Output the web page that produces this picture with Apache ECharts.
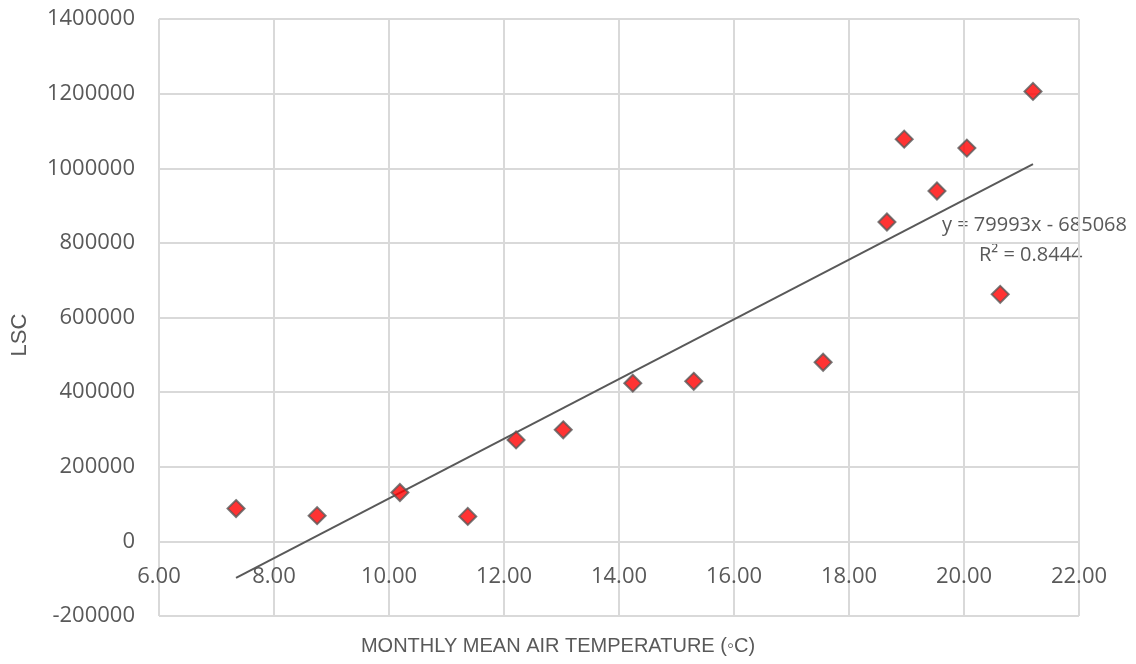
<!DOCTYPE html>
<html>
<head>
<meta charset="utf-8">
<script src="https://cdn.jsdelivr.net/npm/echarts@6/dist/echarts.min.js"></script>
<style>html,body{margin:0;padding:0;background:#fff}#c{width:1136px;height:664px}</style>
</head>
<body>
<div id="c"></div>
<script>
// Data
const temperature = [7.34, 8.75, 10.19, 11.37, 12.21, 13.03, 14.24, 15.30, 17.55, 18.66, 18.96, 19.53, 20.05, 20.63, 21.20];
const lsc = [88000, 69000, 131000, 67000, 272000, 299000, 424000, 429000, 480000, 856000, 1078000, 939000, 1054000, 662000, 1206000];
const trendSlope = 79993;
const trendIntercept = -685068;
const equationText = "y = 79993x - 685068";
const r2Text = "R² = 0.8444";
const xTitle = "MONTHLY MEAN AIR TEMPERATURE (◦C)";
const yTitle = "LSC";

const points = temperature.map((t, i) => [t, lsc[i]]);
const xMinData = Math.min(...temperature), xMaxData = Math.max(...temperature);
const trend = [[xMinData, trendSlope * xMinData + trendIntercept], [xMaxData, trendSlope * xMaxData + trendIntercept]];

const chart = echarts.init(document.getElementById('c'));
const txt = '#595959';
const gridCol = '#d9d9d9';
chart.setOption({
  animation: false,
  backgroundColor: '#fff',
  grid: { left: 159, right: 57, top: 19, bottom: 48, containLabel: false },
  xAxis: {
    type: 'value', min: 6, max: 22, interval: 2,
    position: 'bottom', offset: -74.6,
    axisLine: { show: true, onZero: false, lineStyle: { color: gridCol, width: 2 } },
    axisTick: { show: false },
    axisLabel: { color: txt, fontFamily: 'Open Sans', fontSize: 22, margin: 24, formatter: v => v.toFixed(2) },
    splitLine: { show: true, lineStyle: { color: gridCol, width: 2 } }
  },
  yAxis: {
    type: 'value', min: -200000, max: 1400000, interval: 200000,
    axisLine: { show: false },
    axisTick: { show: false },
    axisLabel: { color: txt, fontFamily: 'Open Sans', fontSize: 22, margin: 24, formatter: v => String(v) },
    splitLine: { show: true, lineStyle: { color: gridCol, width: 2 } }
  },
  series: [
    {
      type: 'line', data: trend, showSymbol: false, symbol: 'none', z: 2,
      lineStyle: { color: '#595959', width: 2 }, silent: true
    },
    {
      type: 'scatter', data: points, symbol: 'diamond', symbolSize: 17, z: 3,
      itemStyle: { color: '#ff0000', borderColor: '#595959', borderWidth: 2 }
    }
  ],
  graphic: [
    { type: 'text', left: 942, top: 215, style: { text: equationText, fill: txt, font: '20px "Open Sans"' } },
    { type: 'text', left: 979, top: 245, style: { text: r2Text, fill: txt, font: '20px "Open Sans"' } },
    { type: 'text', x: 558, y: 646, style: { text: xTitle, fill: txt, font: '20px "Liberation Sans"', align: 'center', verticalAlign: 'middle' } },
    { type: 'text', x: 20, y: 335, rotation: Math.PI / 2, style: { text: yTitle, fill: txt, font: '22px "Liberation Sans"', align: 'center', verticalAlign: 'middle' } }
  ]
});
</script>
</body>
</html>
